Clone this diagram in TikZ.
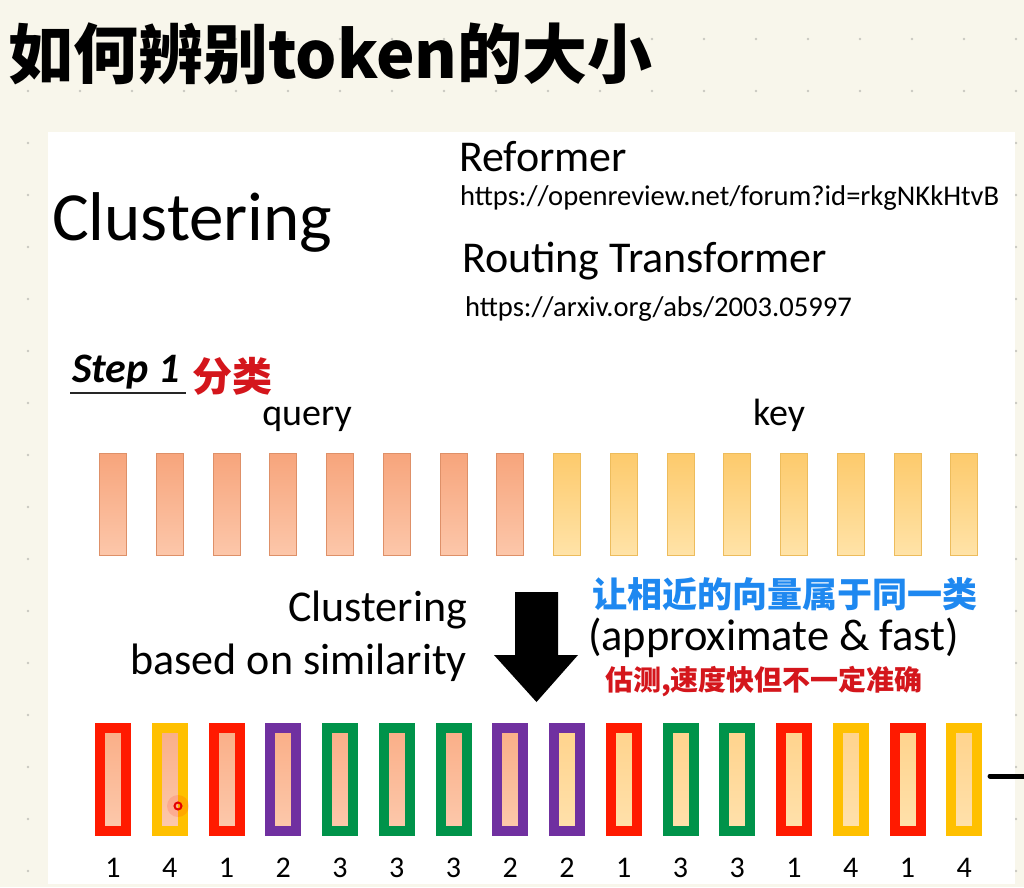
\documentclass[tikz,border=0pt]{standalone}
\usepackage{fontspec}
\setmainfont{Carlito}
\newfontfamily\cjk{Noto Sans CJK SC}
\newcommand\fsz[1]{\fontsize{#1}{#1}\selectfont}
\definecolor{bgcream}{HTML}{F8F6EB}
\definecolor{dotgrey}{HTML}{C9C8C0}
\definecolor{qtop}{HTML}{F7A57C}
\definecolor{qbot}{HTML}{FCC7AA}
\definecolor{qedge}{HTML}{DE9068}
\definecolor{ktop}{HTML}{FDCA6C}
\definecolor{kbot}{HTML}{FFE3A8}
\definecolor{kedge}{HTML}{EDBC5C}
\definecolor{qitop}{HTML}{FAAE87}
\definecolor{qibot}{HTML}{FCC9AC}
\definecolor{kitop}{HTML}{FFD38C}
\definecolor{kibot}{HTML}{FFE1AC}
\definecolor{cr}{HTML}{FF1A00}
\definecolor{cp}{HTML}{7030A0}
\definecolor{cg}{HTML}{00934A}
\definecolor{cy}{HTML}{FFC000}
\definecolor{hblue}{HTML}{1E88F0}
\definecolor{hred}{HTML}{D4161C}
\begin{document}
\begin{tikzpicture}[x=1pt,y=-1pt,
  txt/.style={inner sep=0pt, outer sep=0pt, text=black},
  qbar/.style={draw=qedge, line width=1pt, top color=qtop, bottom color=qbot,
    minimum width=27pt, minimum height=102pt, inner sep=0pt},
  kbar/.style={draw=kedge, line width=1pt, top color=ktop, bottom color=kbot,
    minimum width=27pt, minimum height=102pt, inner sep=0pt},
  cbar/.style={draw=#1, line width=10pt, minimum width=26pt, minimum height=103pt, inner sep=0pt},
  qin/.style={top color=qitop, bottom color=qibot},
  kin/.style={top color=kitop, bottom color=kibot},
  numlbl/.style={txt, anchor=base, font=\fsz{30}},
  hand/.style={inner sep=0pt, font=\cjk\bfseries\fsz{#1}}
]
\useasboundingbox (0,0) rectangle (1024,887);
\fill[bgcream] (0,0) rectangle (1024,887);
\foreach \a in {0,...,19} \foreach \b in {0,...,16}
  \fill[dotgrey] ({28+52*\a},{39+52*\b}) circle (1.3);
% slide
\fill[white] (48,132) rectangle (1015,884);
% title
\node[hand=65, anchor=base west] (title) at (8,78) {如何辨别token的大小};
% header texts
\node[txt, anchor=base west, font=\fsz{69}] (clus) at (52,240) {Clustering};
\node[txt, anchor=base west, font=\fsz{44}] (ref) at (459,171) {Reformer};
\node[txt, anchor=base west, font=\fsz{28.6}] (url1) at (460,205) {https://openreview.net/forum?id=rkgNKkHtvB};
\node[txt, anchor=base west, font=\fsz{44}] (rout) at (462,272) {Routing Transformer};
\node[txt, anchor=base west, font=\fsz{28.6}] (url2) at (465,316) {https://arxiv.org/abs/2003.05997};
% step 1
\node[txt, anchor=base west, font=\fsz{42}\bfseries\itshape] (step) at (72,382) {Step 1};
\coordinate (ul1) at (70,393);
\coordinate (ul2) at (186,393);
\draw[line width=1.5pt, black!85] (ul1) -- (ul2);
\node[hand=40, text=hred] (fenlei) at (232,376) {分类};
\node[txt, anchor=base, font=\fsz{38}] (query) at (307,425) {query};
\node[txt, anchor=base, font=\fsz{38}] (key) at (779,425) {key};
% top bars
\foreach \i in {0,...,15} {
  \pgfmathsetmacro\cx{113+56.75*\i}
  \ifnum\i<8
    \node[qbar] (t\i) at (\cx,504.5) {};
  \else
    \node[kbar] (t\i) at (\cx,504.5) {};
  \fi
}
% middle texts
\node[txt, anchor=base east, font=\fsz{44}] (clus2) at (467,621) {Clustering};
\node[txt, anchor=base east, font=\fsz{44}] (sim) at (467,674) {based on similarity};
\node[txt, anchor=base west, font=\fsz{44.5}] (approx) at (588,650) {(approximate \& fast)};
\node[hand=35, text=hblue] (blue) at (785,594) {让相近的向量属于同一类};
\node[hand=28, text=hred] (redn) at (764,682) {估测,速度快但不一定准确};
% big arrow
\fill[black] (515,592) -- (558,592) -- (558,655) -- (578,655) -- (536.5,702) -- (494,655) -- (515,655) -- cycle;
% bottom bars
\foreach \lab/\col [count=\j from 0] in {1/cr,4/cy,1/cr,2/cp,3/cg,3/cg,3/cg,2/cp,2/cp,1/cr,3/cg,3/cg,1/cr,4/cy,1/cr,4/cy} {
  \pgfmathsetmacro\cx{113+56.75*\j}
  \ifnum\j<8
    \node[cbar=\col, qin] (b\j) at (\cx,779.5) {};
  \else
    \node[cbar=\col, kin] (b\j) at (\cx,779.5) {};
  \fi
  \node[numlbl] (n\j) at (\cx,877) {\lab};
}
% cursor mark
\fill[red, opacity=0.12] (178,806) circle (11);
\draw[red!90!black, line width=2pt] (178,806) circle (3.5);
% black line at right edge
\coordinate (ls) at (990,776);
\coordinate (le) at (1030,776);
\draw[line width=5pt, line cap=round] (ls) -- (le);
\end{tikzpicture}
\end{document}
